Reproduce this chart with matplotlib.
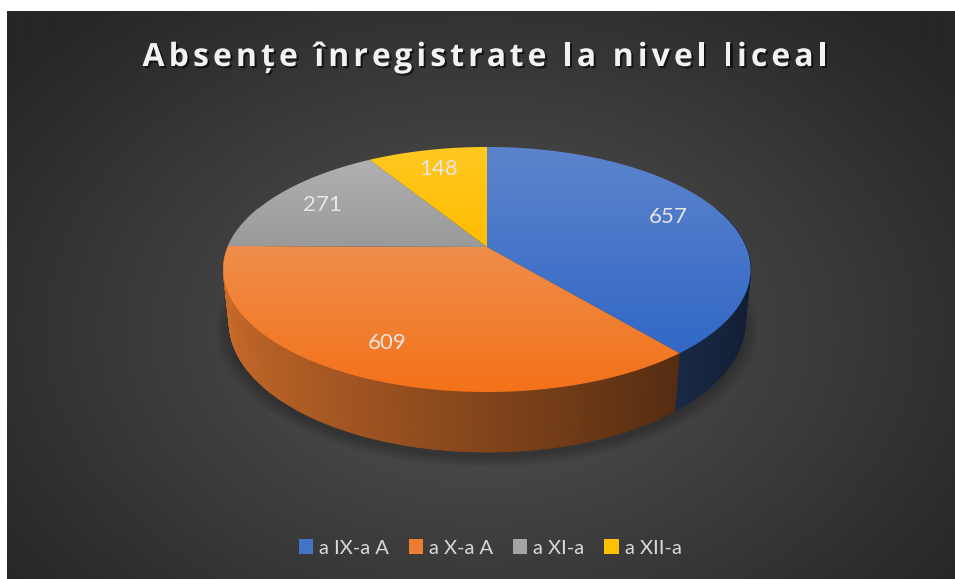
import numpy as np
import matplotlib
matplotlib.use("Agg")
import matplotlib.pyplot as plt
from matplotlib.patches import Polygon, Patch
from matplotlib.collections import PolyCollection
from matplotlib.colors import to_rgb
import matplotlib.patheffects as pe

# data
title = "Absențe înregistrate la nivel liceal"
labels = ["a IX-a A", "a X-a A", "a XI-a", "a XII-a"]
values = [657, 609, 271, 148]
colors = ["#4472C4", "#ED7D31", "#A5A5A5", "#FFC000"]

plt.rcParams["font.family"] = ["Lato", "DejaVu Sans"]

W, H = 955, 579
fig = plt.figure(figsize=(W / 100, H / 100), dpi=100)
fig.patch.set_facecolor("white")
ax = fig.add_axes([0, 0, 1, 1])
ax.set_xlim(0, W)
ax.set_ylim(H, 0)
ax.axis("off")

# dark radial background
yy, xx = np.mgrid[11:H, 7:W]
rr = np.sqrt(((xx - 480) / 600.0) ** 2 + ((yy - 330) / 430.0) ** 2)
rr = np.clip(rr, 0, 1)
inner = np.array(to_rgb("#555555"))
outer = np.array(to_rgb("#262626"))
bg = inner[None, None, :] * (1 - rr[..., None]) + outer[None, None, :] * rr[..., None]
ax.imshow(bg, extent=(7, W, H, 11), origin="upper", zorder=0, aspect="auto")

# simple perspective for the 3d pie
s, c = 0.457, 0.889
D, f = 4.84, 1254.0
cx, cy = 487.0, 247.0
depth = 0.232


def proj(X, Z, Y):
    u = Y * c - Z * s
    d = D - (Z * c + Y * s)
    return cx + f * X / d, cy - f * u / d


def rim(theta_deg, Y, r=1.0):
    t = np.radians(theta_deg)
    return proj(r * np.sin(t), -r * np.cos(t), Y)


total = float(sum(values))
bounds = 360.0 * np.concatenate([[0], np.cumsum(values)]) / total

# soft shadow under the pie
for sc in np.linspace(1.05, 1.0, 6):
    th = np.linspace(0, 360, 361)
    bx, by = rim(th, -depth - 0.01, sc)
    ax.add_patch(Polygon(np.column_stack([bx, by + 3]), closed=True,
                         facecolor="black", edgecolor="none", alpha=0.04, zorder=1))

# side walls (front half only)
for i in range(len(values)):
    a0, a1 = max(bounds[i], 70), min(bounds[i + 1], 290)
    if a1 <= a0:
        continue
    th = np.linspace(a0, a1, int((a1 - a0) * 2) + 2)
    base = np.array(to_rgb(colors[i]))
    quads, fcs = [], []
    for t1, t2 in zip(th[:-1], th[1:]):
        x1, y1 = rim(t1, 0)
        x2, y2 = rim(t2, 0)
        x3, y3 = rim(t2, -depth)
        x4, y4 = rim(t1, -depth)
        quads.append([(x1, y1), (x2, y2), (x3, y3), (x4, y4)])
        k = np.clip(0.55 - 0.3 * np.sin(np.radians((t1 + t2) / 2)), 0.2, 1)
        fcs.append(base * k)
    ax.add_collection(PolyCollection(quads, facecolors=fcs, edgecolors=fcs,
                                     linewidths=0.6, zorder=2))

# top faces with vertical gradient
for i in range(len(values)):
    th = np.linspace(bounds[i], bounds[i + 1], 200)
    px, py = rim(th, 0)
    pts = np.vstack([[cx, cy], np.column_stack([px, py])])
    poly = Polygon(pts, closed=True, facecolor="none", edgecolor="none", zorder=3)
    ax.add_patch(poly)
    y0, y1 = pts[:, 1].min(), pts[:, 1].max()
    x0, x1 = pts[:, 0].min(), pts[:, 0].max()
    base = np.array(to_rgb(colors[i]))
    light = base * 0.87 + 0.13
    dark = base * 0.93
    dark = np.clip(dark.mean() + (dark - dark.mean()) * 1.25, 0, 1)
    tt = np.linspace(0, 1, 256)[:, None, None]
    grad = light[None, None, :] * (1 - tt) + dark[None, None, :] * tt
    im = ax.imshow(grad, extent=(x0 - 1, x1 + 1, y1 + 1, y0 - 1), origin="upper",
                   aspect="auto", zorder=3, interpolation="bilinear")
    im.set_clip_path(poly)

# data labels
for i, v in enumerate(values):
    mid = (bounds[i] + bounds[i + 1]) / 2
    lx, ly = rim(mid, 0, 0.78)
    ax.text(lx, ly, str(v), color="#E6E6E6", fontsize=16, ha="center",
            va="center", zorder=5)

# title, drawn letter by letter to get the wide tracking
renderer = fig.canvas.get_renderer()
title_kw = dict(color="#F2F2F2", fontsize=23, fontweight="bold", zorder=5,
                family=["Open Sans", "DejaVu Sans"],
                path_effects=[pe.withSimplePatchShadow(offset=(1.5, -1.5),
                                                       shadow_rgbFace="black", alpha=0.6)])


def text_w(txt):
    if not txt:
        return 0.0
    t = ax.text(0, 0, txt, **title_kw)
    w = t.get_window_extent(renderer).width
    t.remove()
    return w


full_w = text_w(title)
target_w = 685.0
spacing = (target_w - full_w) / (len(title) - 1)
x_start = 485 - target_w / 2
for j, ch in enumerate(title):
    if ch == " ":
        continue
    xj = x_start + text_w(title[:j].replace(" ", "\u00a0")) + j * spacing
    ax.text(xj, 66, ch, ha="left", va="baseline", **title_kw)

# legend
handles = [Patch(facecolor=col, edgecolor="none", label=lab) for col, lab in zip(colors, labels)]
leg = ax.legend(handles=handles, loc="center", bbox_to_anchor=(490 / W, 1 - 548 / H),
                ncol=4, frameon=False, fontsize=14.5, labelcolor="#D9D9D9",
                handlelength=0.7, handleheight=0.7, handletextpad=0.3,
                columnspacing=1.0)

fig.savefig("out.png", dpi=100)
